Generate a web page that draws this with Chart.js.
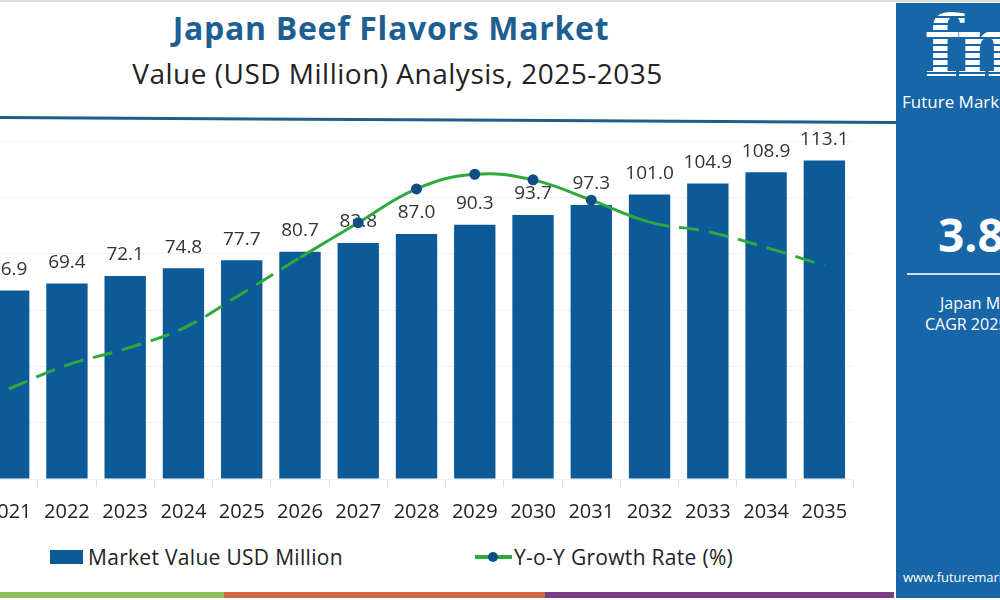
<!DOCTYPE html>
<html>
<head>
<meta charset="utf-8">
<script src="https://cdn.jsdelivr.net/npm/chart.js@4.4.1/dist/chart.umd.min.js"></script>
<style>
  body { margin: 0; width: 1000px; height: 600px; overflow: hidden; background: #fff; font-family: "Open Sans", sans-serif; position: relative; }
  .topline { position: absolute; left: 0; top: 0; width: 1000px; height: 2px; background: #dcdcdc; }
  .title { position: absolute; left: 0; width: 782px; top: 6px; text-align: center; font-size: 32px; letter-spacing: 0.7px; font-weight: 700; color: #1e5f92; }
  .subtitle { position: absolute; left: 0; width: 795px; top: 54px; text-align: center; font-size: 28px; letter-spacing: 0.5px; color: #222; }
  .hline { position: absolute; left: 0; top: 116px; width: 896px; height: 3px; background: #1f5d8c; transform-origin: 0 0; transform: rotate(0.32deg); }
  #wrap { position: absolute; left: -27px; top: 100px; width: 887px; height: 437px; }
  .legend { position: absolute; top: 543px; left: 0; height: 28px; font-size: 21px; letter-spacing: 0.3px; color: #222; }
  .legend span { position: absolute; white-space: nowrap; line-height: 28px; top: 0; }
  .strip { position: absolute; top: 592px; height: 6px; }
  .panel { position: absolute; left: 896px; top: 3px; width: 104px; height: 595px; background: #1766a8; overflow: hidden; color: #fff; }
  .panel div { position: absolute; white-space: nowrap; }
  .logo { left: 28px; top: -6px; font-family: "DejaVu Serif", serif; font-weight: 700; font-size: 84px; letter-spacing: -4px;
          background: repeating-linear-gradient(to bottom, #fff 0 5px, #1766a8 5px 7px); -webkit-background-clip: text; background-clip: text; color: transparent; }
</style>
</head>
<body>
<div class="topline"></div>
<div class="title">Japan Beef Flavors Market</div>
<div class="subtitle">Value (USD Million) Analysis, 2025-2035</div>
<div class="hline"></div>
<div id="wrap"><canvas id="myChart"></canvas></div>
<div class="legend" id="legend"></div>
<div class="strip" style="left:0;width:224px;background:#8bbf57"></div>
<div class="strip" style="left:224px;width:321px;background:#cf6640"></div>
<div class="strip" style="left:545px;width:349px;background:#7d3a88"></div>
<div class="panel">
  <div class="logo">fmi</div>
  <div style="left:6px;top:87px;font-size:17px;">Future Market Insights</div>
  <div style="left:42px;top:200px;font-size:46px;font-weight:700;">3.8%</div>
  <div style="left:11px;top:270px;width:120px;height:2px;background:#cfe0f0;"></div>
  <div style="left:44px;top:289px;font-size:16px;">Japan Market</div>
  <div style="left:29px;top:310px;font-size:16px;">CAGR 2025-2035</div>
  <div style="left:7px;top:565px;font-size:13px;">www.futuremarketinsights.com</div>
</div>
<script>
const years = ['2021', '2022', '2023', '2024', '2025', '2026', '2027', '2028', '2029', '2030', '2031', '2032', '2033', '2034', '2035'];
const marketValue = [66.9, 69.4, 72.1, 74.8, 77.7, 80.7, 83.8, 87.0, 90.3, 93.7, 97.3, 101.0, 104.9, 108.9, 113.1];
const growthRate = [1.60, 2.02, 2.31, 2.68, 3.29, 3.93, 4.55, 5.15, 5.41, 5.31, 4.95, 4.56, 4.39, 4.11, 3.79];
const seriesNames = ['Market Value USD Million', 'Y-o-Y Growth Rate (%)'];

const barColor = '#0d5a98';
const lineColor = '#2eaa3c';
const dotColor = '#0f4f86';

// value labels above the bars
const barLabels = {
    id: 'barLabels',
    beforeDatasetsDraw(chart) {
        const ctx = chart.ctx;
        const meta = chart.getDatasetMeta(1);
        ctx.save();
        ctx.font = '19px "Open Sans"';
        ctx.fillStyle = '#333';
        ctx.textAlign = 'center';
        ctx.textBaseline = 'middle';
        meta.data.forEach((bar, i) => {
            ctx.fillText(marketValue[i].toFixed(1), bar.x, bar.y - 21);
        });
        ctx.restore();
    }
};

const ctx = document.getElementById('myChart').getContext('2d');

new Chart(ctx, {
    data: {
        labels: years,
        datasets: [
            {
                type: 'line',
                label: seriesNames[1],
                data: growthRate,
                yAxisID: 'y1',
                order: 0,
                borderColor: lineColor,
                borderWidth: 3,
                tension: 0.4,
                pointRadius: c => (c.dataIndex >= 6 && c.dataIndex <= 10) ? 4 : 0,
                pointBackgroundColor: dotColor,
                pointBorderColor: dotColor,
                segment: {
                    borderDash: s => (s.p0DataIndex < 5 || s.p0DataIndex > 10) ? [20, 10] : undefined
                }
            },
            {
                type: 'bar',
                label: seriesNames[0],
                data: marketValue,
                yAxisID: 'y',
                order: 1,
                backgroundColor: barColor,
                categoryPercentage: 1,
                barPercentage: 0.71
            }
        ]
    },
    options: {
        responsive: true,
        maintainAspectRatio: false,
        animation: false,
        layout: { padding: { top: 41, left: 0, right: 0, bottom: 0 } },
        plugins: { legend: { display: false }, tooltip: { enabled: false } },
        scales: {
            x: {
                grid: { drawOnChartArea: false, drawTicks: true, tickLength: 8, color: '#e6dccd' },
                border: { display: false },
                ticks: { color: '#222', font: { family: 'Open Sans', size: 20 }, padding: 13, maxRotation: 0 }
            },
            y: {
                min: 0,
                max: 120,
                ticks: { display: false, stepSize: 20 },
                grid: { color: '#efefef', drawTicks: false },
                border: { display: false }
            },
            y1: {
                display: false,
                min: 0,
                max: 6
            }
        }
    },
    plugins: [barLabels]
});

// legend built from the series names
const legend = document.getElementById('legend');
legend.innerHTML =
    '<span style="left:50px;top:7px;width:33px;height:14px;background:' + barColor + '"></span>' +
    '<span style="left:88px">' + seriesNames[0] + '</span>' +
    '<span style="left:475px;top:12px;width:37px;height:4px;background:' + lineColor + '"></span>' +
    '<span style="left:488px;top:9px;width:10px;height:10px;border-radius:50%;background:' + dotColor + '"></span>' +
    '<span style="left:514px">' + seriesNames[1] + '</span>';
</script>
</body>
</html>
